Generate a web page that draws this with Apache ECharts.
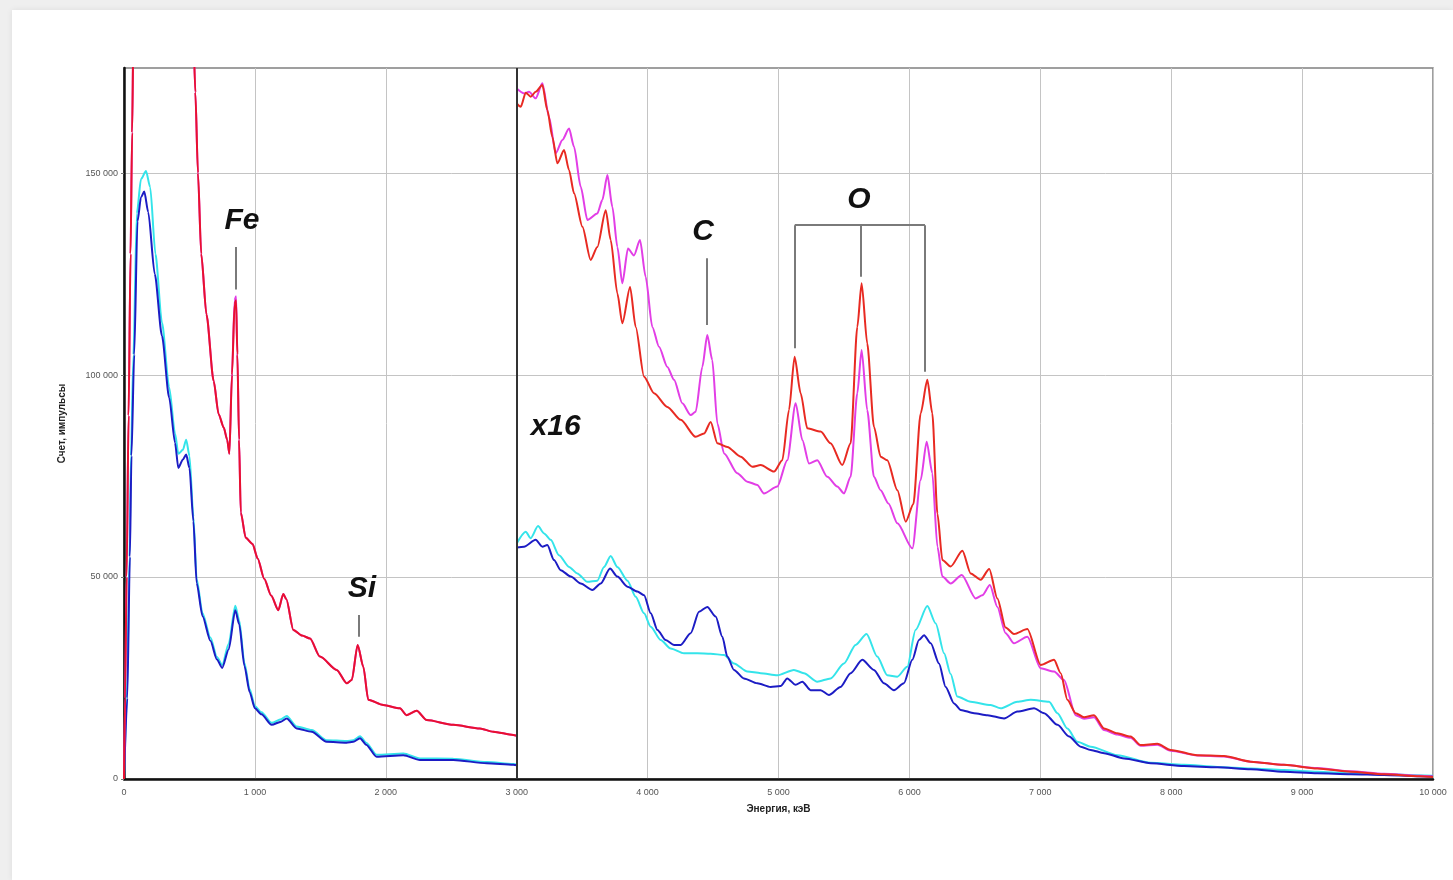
<!DOCTYPE html>
<html>
<head>
<meta charset="utf-8">
<script src="https://cdn.jsdelivr.net/npm/echarts@6/dist/echarts.min.js"></script>
<style>
    html, body { margin: 0; padding: 0; background: #efefef; overflow: hidden; }
    #panel { position: absolute; left: 12px; top: 10px; width: 1441px; height: 870px; background: #fff;
             box-shadow: 0 0 6px rgba(0,0,0,0.08); }
    #chart { position: absolute; left: 0; top: 0; width: 1453px; height: 880px; }
</style>
</head>
<body>
<div id="panel"></div>
<div id="chart"></div>
<script>
    // 0 - 3000 keV, natural scale
    const redLow = [[0,0],[8,20000],[20,50000],[35,90000],[50,130000],[62,160000],[72,185000],[300,260000],
        [525,190000],[545,170000],[565,150000],[590,130000],[630,115000],[685,98500],[723,90300],[762,87000],
        [788,84000],[805,80500],[825,100000],[845,117500],[856,118500],[866,105000],[879,84000],[892,66000],
        [930,59700],[982,58200],[1021,54600],[1072,49500],[1124,45400],[1179,41800],[1217,45800],[1240,44500],
        [1294,36900],[1360,35500],[1421,34800],[1497,30300],[1625,27000],[1701,23700],[1740,24500],[1785,33200],
        [1828,27800],[1866,19600],[1981,18300],[2108,17500],[2159,15800],[2236,16900],[2312,14600],[2516,13400],
        [2719,12500],[2821,11700],[2974,10900],[3000,10700]];
    const magentaLow = [[0,0],[8,20000],[20,50000],[35,90000],[50,130000],[62,160000],[72,185000],[300,260000],
        [525,190000],[545,170000],[565,150000],[590,130000],[630,115000],[685,98500],[723,90300],[762,87000],
        [788,84000],[805,80500],[825,100500],[845,118500],[856,119500],[866,105500],[879,84000],[892,66000],
        [930,59700],[982,58200],[1021,54600],[1072,49500],[1124,45400],[1179,41800],[1217,45800],[1240,44500],
        [1294,36900],[1360,35500],[1421,34800],[1497,30300],[1625,27000],[1701,23700],[1740,24500],[1785,33200],
        [1828,27800],[1866,19600],[1981,18300],[2108,17500],[2159,15800],[2236,16900],[2312,14600],[2516,13400],
        [2719,12500],[2821,11700],[2974,10900],[3000,10700]];
    const blueLow = [[0,0],[25,20000],[45,55000],[57,80000],[78,105000],[103,138000],[130,144000],[155,145400],
        [185,140300],[235,125000],[290,109700],[345,94400],[390,83200],[415,77000],[450,79100],[475,80300],
        [500,77000],[530,63800],[555,48500],[600,40300],[660,34200],[710,29600],[750,27500],[800,32100],
        [850,41800],[880,38300],[920,28000],[960,21500],[1000,17500],[1050,16000],[1128,13400],[1200,14200],
        [1243,15000],[1319,12500],[1434,11700],[1548,9200],[1700,9000],[1752,9200],[1803,10100],[1850,8500],
        [1930,5500],[2134,5900],[2261,4700],[2516,4700],[2771,3900],[2974,3500],[3000,3400]];
    const cyanLow = [[0,0],[22,20000],[42,55000],[53,80000],[72,105000],[98,140000],[130,148500],[168,150500],
        [200,146500],[240,130000],[290,113000],[345,97000],[390,85500],[415,80500],[450,81500],[475,84000],
        [500,80000],[530,65000],[555,49500],[600,41000],[660,35000],[710,30200],[750,28200],[800,33500],
        [850,42900],[880,39300],[920,28800],[960,22200],[1000,18000],[1050,16500],[1128,13900],[1200,14800],
        [1243,15600],[1319,13000],[1434,12100],[1548,9600],[1700,9400],[1752,9600],[1803,10600],[1850,9000],
        [1930,6000],[2134,6300],[2261,5100],[2516,5000],[2771,4200],[2974,3700],[3000,3600]];

    // 3000 - 10000 keV, x16
    const redHigh = [[3000,167200],[3031,166400],[3069,169900],[3107,168900],[3145,170100],[3196,171800],
        [3234,165600],[3272,159000],[3311,152400],[3362,155700],[3400,150700],[3438,145000],[3502,136700],
        [3565,128500],[3616,131700],[3680,140800],[3718,133400],[3769,120200],[3807,112800],[3866,121800],
        [3909,111900],[3973,99600],[4049,95500],[4151,92100],[4253,88900],[4367,84700],[4431,85500],[4482,88400],
        [4533,83100],[4609,82200],[4711,79800],[4800,77300],[4864,77700],[4966,76100],[5029,78900],[5080,91300],
        [5123,104500],[5169,95500],[5220,86800],[5322,86000],[5398,83100],[5487,77700],[5551,83100],[5602,111900],
        [5635,122700],[5678,107800],[5729,87200],[5780,79800],[5831,78900],[5908,71500],[5972,63700],[6030,68000],
        [6086,90500],[6137,98800],[6175,90500],[6214,65700],[6252,54200],[6315,52600],[6405,56500],[6468,50900],
        [6544,49300],[6610,52000],[6672,44700],[6735,37500],[6799,35900],[6901,37100],[7003,28200],[7105,29500],
        [7156,26200],[7207,19600],[7270,16300],[7334,15300],[7410,15800],[7487,12500],[7588,11300],[7690,10500],
        [7767,8400],[7894,8700],[7996,7200],[8199,5900],[8403,5700],[8607,4300],[8861,3500],[9116,2600],
        [9371,1800],[9625,1200],[9900,700],[10000,500]];
    const magentaHigh = [[3000,170900],[3056,169700],[3094,170100],[3145,168500],[3196,172200],[3247,163900],
        [3298,154900],[3349,158200],[3400,161000],[3438,156500],[3489,146600],[3540,138400],[3616,140000],
        [3654,143300],[3693,149500],[3731,141600],[3769,131700],[3807,122700],[3850,131300],[3896,129600],
        [3942,133400],[3985,124300],[4036,111900],[4087,107000],[4151,102000],[4202,98800],[4265,93000],
        [4329,90100],[4367,90900],[4418,102000],[4456,109900],[4494,103700],[4533,88000],[4584,80600],
        [4685,75700],[4762,73600],[4838,72800],[4889,70700],[4991,72400],[5067,78900],[5131,93000],[5182,83900],
        [5233,78100],[5296,78900],[5373,74800],[5449,72400],[5500,70700],[5551,74800],[5602,95500],[5635,106200],
        [5678,91300],[5729,74800],[5780,71500],[5840,68200],[5908,63300],[6023,57100],[6086,74000],[6132,83500],
        [6175,75700],[6214,57500],[6252,50100],[6315,48400],[6400,50500],[6506,44700],[6557,45500],[6615,48000],
        [6672,42600],[6735,36100],[6799,33600],[6901,35200],[7003,27400],[7105,26600],[7181,24500],[7270,15800],
        [7334,14900],[7410,15300],[7487,12100],[7588,11000],[7690,10200],[7767,8200],[7894,8500],[7996,7000],
        [8199,5800],[8403,5600],[8607,4300],[8861,3500],[9116,2700],[9371,1900],[9625,1300],[9900,800],[10000,600]];
    const blueHigh = [[3000,57300],[3056,57500],[3145,59200],[3196,57500],[3234,57900],[3285,54200],[3336,51700],
        [3413,50100],[3489,48400],[3578,46800],[3642,48400],[3713,52100],[3769,50100],[3846,47600],[3922,46400],
        [3973,45500],[4024,41000],[4075,36900],[4138,34400],[4202,33200],[4253,33200],[4329,36100],[4393,41400],
        [4456,42600],[4520,40200],[4571,35200],[4609,30300],[4660,27000],[4736,24900],[4838,23700],[4940,22800],
        [5016,23000],[5067,24900],[5131,23300],[5182,24100],[5245,22000],[5322,22000],[5385,20800],[5474,22800],
        [5551,26200],[5640,29500],[5729,27000],[5805,23700],[5882,22000],[5958,23700],[6022,29500],[6073,34400],
        [6112,35600],[6163,33600],[6226,28600],[6277,22800],[6341,18700],[6392,17100],[6494,16300],[6596,15800],
        [6723,15000],[6825,16700],[6952,17500],[7029,16300],[7131,13400],[7220,10500],[7309,8000],[7385,7200],
        [7487,6400],[7640,5100],[7843,3900],[8097,3200],[8352,2900],[8607,2400],[8861,1800],[9116,1400],
        [9371,1200],[9625,1000],[9880,700],[10000,600]];
    const cyanHigh = [[3000,58300],[3069,61200],[3107,59600],[3163,62600],[3209,60800],[3260,59200],[3323,55400],
        [3400,52500],[3463,50900],[3540,48800],[3616,49100],[3667,52500],[3718,55200],[3769,52500],[3846,49100],
        [3909,45100],[3973,41000],[4024,37700],[4100,34400],[4176,32300],[4278,31100],[4380,31100],[4482,31000],
        [4584,30700],[4660,28600],[4762,26600],[4864,26200],[4991,25700],[5118,27000],[5194,26200],[5296,24100],
        [5398,24900],[5500,28600],[5589,33200],[5673,35900],[5754,30300],[5831,25700],[5907,25300],[5984,27800],
        [6047,36900],[6137,42800],[6201,38500],[6265,31100],[6315,26000],[6366,20400],[6468,19100],[6621,18300],
        [6697,17500],[6825,19100],[6927,19600],[7067,19100],[7131,16300],[7207,12500],[7283,9200],[7385,8000],
        [7588,5900],[7843,4000],[8097,3500],[8352,3000],[8607,2600],[8861,2200],[9116,1800],[9371,1400],
        [9625,1200],[10000,800]];

    const yTicks = [0, 50000, 100000, 150000];

    const labelFont = '"Liberation Sans", Arial, sans-serif';
    const spaced = v => String(v).replace(/\B(?=(\d{3})+(?!\d))/g, ' ');

    const tagStyle = {fontSize: 30, fontWeight: 'bold', fontStyle: 'italic', color: '#111', fontFamily: labelFont};
    const tag = (text, x, y) => ({
        coord: [x, y], symbol: 'circle', symbolSize: 0,
        label: Object.assign({show: true, position: 'inside', formatter: text}, tagStyle)
    });
    const seg = (x1, y1, x2, y2) => [{coord: [x1, y1]}, {coord: [x2, y2]}];

    function line(name, data, color) {
        return {
            name: name, type: 'line', data: data, showSymbol: false, symbol: 'none',
            smooth: 0.25, smoothMonotone: 'x',
            lineStyle: {color: color, width: 2}, clip: true, silent: true
        };
    }

    const chart = echarts.init(document.getElementById('chart'));
    const series = [
        line('cyan', cyanLow, '#34e4ea'),
        line('blue', blueLow, '#1c1cc4'),
        line('magenta', magentaLow, '#e23ee6'),
        line('red', redLow, '#e8112e'),
        line('cyan', cyanHigh, '#34e4ea'),
        line('blue', blueHigh, '#1c1cc4'),
        line('magenta', magentaHigh, '#e23ee6'),
        line('red', redHigh, '#e82a22')
    ];
    // separator at 3000 and the peak labels
    series.push({
        type: 'line', data: [], silent: true,
        markLine: {
            silent: true, symbol: ['none', 'none'], label: {show: false}, animation: false,
            lineStyle: {color: '#7a7a7a', width: 2, type: 'solid'},
            data: [
                seg(856, 131700, 856, 121200),
                seg(1790, 40600, 1790, 35200),
                seg(4450, 128900, 4450, 112400),
                seg(5124, 137100, 6119, 137100),
                seg(5124, 137100, 5124, 106600),
                seg(5627, 137100, 5627, 124300),
                seg(6119, 137100, 6119, 100800),
                [{coord: [3000, 0], lineStyle: {color: '#333', width: 2}}, {coord: [3000, 176000]}]
            ]
        },
        markPoint: {
            silent: true, animation: false,
            data: [
                tag('Fe', 901, 138100),
                tag('Si', 1818, 47000),
                tag('x16', 3298, 87100),
                tag('C', 4423, 135400),
                tag('O', 5615, 143300)
            ]
        }
    });

    chart.setOption({
        animation: false,
        grid: {left: 124, right: 20, top: 68, bottom: 101, show: true, borderColor: '#808080', borderWidth: 1.5},
        xAxis: {
            type: 'value', min: 0, max: 10000, interval: 1000,
            name: 'Энергия, кэВ', nameLocation: 'middle', nameGap: 25,
            nameTextStyle: {fontSize: 10, fontWeight: 'bold', color: '#222', fontFamily: labelFont},
            axisLine: {show: true, lineStyle: {color: '#111', width: 2.5}},
            axisTick: {show: false},
            axisLabel: {fontSize: 9, color: '#555', margin: 9, fontFamily: labelFont, formatter: spaced},
            splitLine: {show: true, lineStyle: {color: '#c4c4c4', width: 1}}
        },
        yAxis: {
            type: 'value', min: 0, max: 176000, interval: 50000,
            name: 'Счет, импульсы', nameLocation: 'middle', nameGap: 57,
            nameTextStyle: {fontSize: 10, fontWeight: 'bold', color: '#222', fontFamily: labelFont},
            axisLine: {show: true, lineStyle: {color: '#111', width: 2.5}},
            axisTick: {show: true, length: 3, customValues: yTicks, lineStyle: {color: '#777'}},
            axisLabel: {fontSize: 9, color: '#555', margin: 6, fontFamily: labelFont,
                customValues: yTicks, formatter: v => spaced(v)},
            splitLine: {show: true, lineStyle: {color: '#c4c4c4', width: 1}}
        },
        series: series
    });
</script>
</body>
</html>
